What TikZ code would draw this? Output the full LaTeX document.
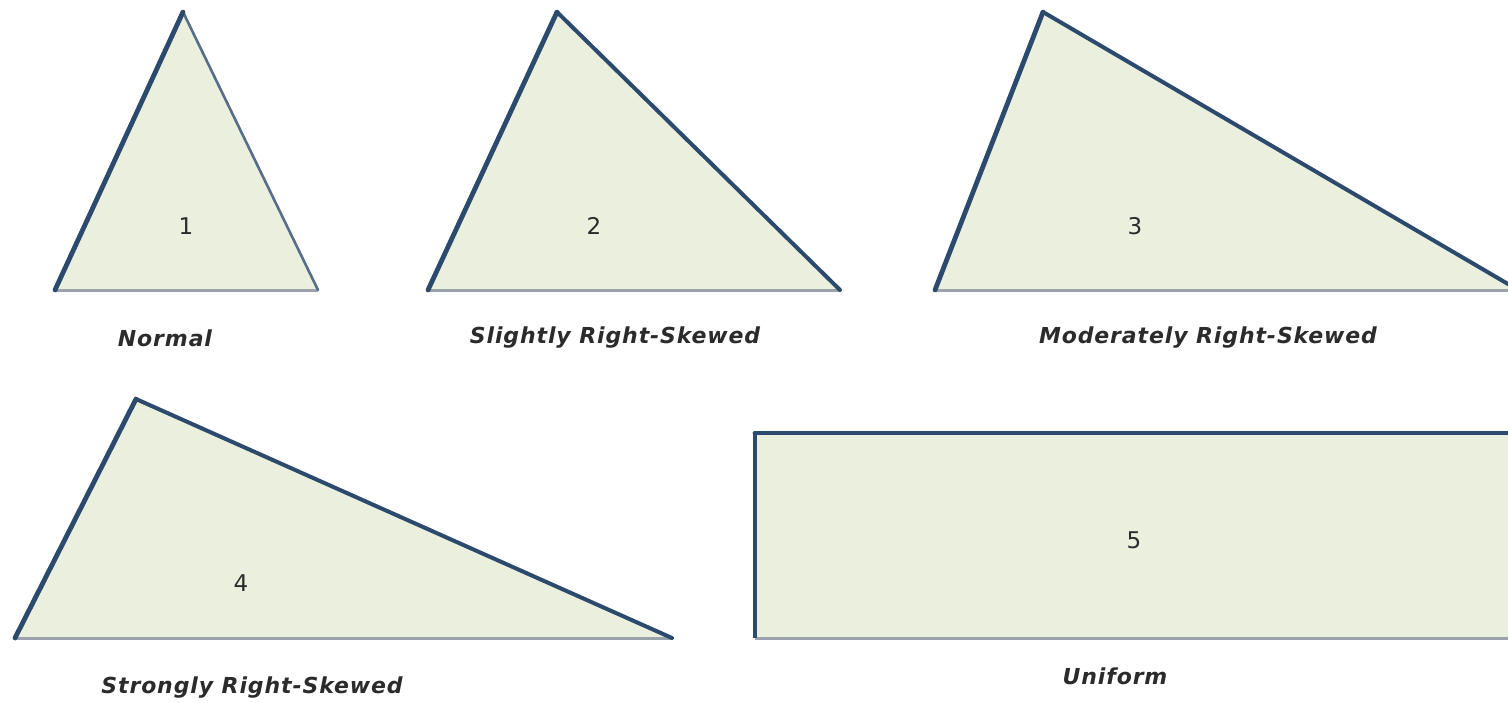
\documentclass[tikz,border=0pt]{standalone}
\usepackage{fontspec}
\setsansfont{DejaVu Sans}
\newfontfamily\capfont[LetterSpace=4]{DejaVu Sans}
\usepackage{xcolor}
\definecolor{shapefill}{HTML}{EBF0DE}
\definecolor{edgecolor}{HTML}{2C4A6E}
\definecolor{basecolor}{HTML}{9AA3AB}
\definecolor{txtcolor}{HTML}{2B2B2B}

\begin{document}
\begin{tikzpicture}[
  x=0.5pt, y=-0.5pt,
  font=\sffamily,
  shapebody/.style={fill=shapefill, draw=none},
  leftedge/.style={draw=edgecolor, line width=2.4pt, line cap=round},
  rightedge/.style={draw=edgecolor, line width=2pt, line cap=round},
  baseedge/.style={draw=basecolor, line width=1.5pt},
  numlabel/.style={font=\sffamily\fontsize{11.5}{13}\selectfont, text=txtcolor},
  caption/.style={font=\capfont\bfseries\itshape\fontsize{11}{13}\selectfont, text=txtcolor},
]
\useasboundingbox (0,0) rectangle (1508,702);

% Corner points of the five shapes
\coordinate (n1) at (55,290);   \coordinate (n2) at (183,12);  \coordinate (n3) at (318,290);
\coordinate (s1) at (428,290);  \coordinate (s2) at (557,12);  \coordinate (s3) at (840,290);
\coordinate (m1) at (935,290);  \coordinate (m2) at (1043,12); \coordinate (m3) at (1508,284);
\coordinate (k1) at (15,638);   \coordinate (k2) at (136,399); \coordinate (k3) at (672,638);
\coordinate (u1) at (755,638);  \coordinate (u2) at (755,433); \coordinate (u3) at (1515,433);
\coordinate (u4) at (1515,638);

% Triangle 1: normal
\fill[shapebody] (n1) -- (n2) -- (n3) -- cycle;
\draw[baseedge] (n1) -- (n3);
\draw[rightedge, line width=1.3pt, draw=edgecolor!80] (n2) -- (n3);
\draw[leftedge] (n1) -- (n2);

% Triangle 2: slightly right-skewed
\fill[shapebody] (s1) -- (s2) -- (s3) -- cycle;
\draw[baseedge] (s1) -- (s3);
\draw[rightedge] (s2) -- (s3);
\draw[leftedge] (s1) -- (s2);

% Triangle 3: moderately right-skewed
\fill[shapebody] (m1) -- (m2) -- (m3) -- (1508,290) -- cycle;
\draw[baseedge] (m1) -- (1508,290);
\draw[rightedge] (m2) -- (m3);
\draw[leftedge] (m1) -- (m2);

% Triangle 4: strongly right-skewed
\fill[shapebody] (k1) -- (k2) -- (k3) -- cycle;
\draw[baseedge] (k1) -- (k3);
\draw[rightedge] (k2) -- (k3);
\draw[leftedge] (k1) -- (k2);

% Rectangle 5: uniform
\fill[shapebody] (u1) rectangle (u3);
\draw[baseedge] (u1) -- (u4);
\draw[rightedge, line width=2.4pt] (u2) -- (u3);
\draw[leftedge, line cap=butt] (u1) -- (u2);

% Numbers inside the shapes
\node[numlabel] (num1) at (186,226) {1};
\node[numlabel] (num2) at (594,226) {2};
\node[numlabel] (num3) at (1135,226) {3};
\node[numlabel] (num4) at (241,583) {4};
\node[numlabel] (num5) at (1134,540) {5};

% Captions below the shapes
\node[caption] (cap1) at (165,338) {Normal};
\node[caption] (cap2) at (615,338) {Slightly Right-Skewed};
\node[caption] (cap3) at (1208,338) {Moderately Right-Skewed};
\node[caption] (cap4) at (252,688) {Strongly Right-Skewed};
\node[caption] (cap5) at (1115,676) {Uniform};

\end{tikzpicture}
\end{document}
